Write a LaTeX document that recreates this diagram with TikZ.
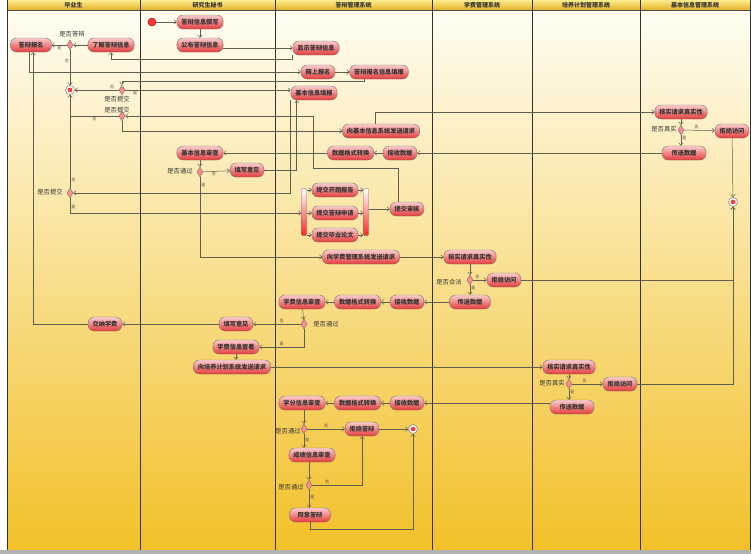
\documentclass[tikz,border=0pt]{standalone}
\usepackage{fontspec}
\setmainfont{Noto Sans CJK SC}
\usetikzlibrary{positioning,arrows.meta,shapes.geometric,calc}
\definecolor{lnc}{RGB}{95,95,80}
\definecolor{bgtop}{RGB}{255,253,242}
\definecolor{bgbot}{RGB}{242,192,40}
\definecolor{hdtop}{RGB}{252,236,140}
\definecolor{hdbot}{RGB}{228,176,36}
\definecolor{acttop}{RGB}{252,205,205}
\definecolor{actbot}{RGB}{228,58,58}

\begin{document}
\begin{tikzpicture}[x=1pt,y=-1pt,
  act/.style={draw=black!55,rounded corners=6pt,top color=acttop,bottom color=actbot,minimum height=14pt,
    inner xsep=4.5pt,inner ysep=1pt,font=\fontsize{6.2}{7}\selectfont\bfseries,text=black!80},
  dec/.style={diamond,draw=black!55,fill=red!45,minimum width=6pt,minimum height=10pt,inner sep=0pt},
  ini/.style={circle,draw=red!50!black,fill=red!80,minimum size=8pt,inner sep=0pt},
  fin/.style={circle,draw=black!60,fill=white,minimum size=9pt,inner sep=0pt,
    path picture={\fill[red!75] (path picture bounding box.center) circle (2.4pt);}},
  bar/.style={draw=black!55,rounded corners=1pt,minimum width=5pt,minimum height=47pt,inner sep=0pt,
    top color=white,bottom color=red!85},
  dl/.style={font=\fontsize{6.3}{7}\selectfont,text=black!80,inner sep=0pt},
  yn/.style={font=\fontsize{4}{4}\selectfont,text=black!70,inner sep=1pt},
  hd/.style={font=\fontsize{6}{7}\selectfont\bfseries,text=black!80,inner sep=0pt},
  swim/.style={draw=black!80,line width=0.7pt},
  fl/.style={-{Straight Barb[length=2.5pt,width=4.5pt]},draw=lnc,line width=0.5pt},
  ln/.style={draw=lnc,line width=0.5pt},
]
\useasboundingbox (0,0) rectangle (751,554);
% lanes
\shade[top color=bgtop,bottom color=bgbot] (7,10) rectangle (750,550);
\shade[top color=hdtop,bottom color=hdbot] (7,0) rectangle (750,10);
\draw[black!70,line width=0.6pt] (7,10) -- (750,10);
\foreach \x in {7,140,275,432,532,640,750} \draw[swim] (\x,0) -- (\x,550);
\fill[black!30] (0,550) rectangle (751,554);
\foreach \a/\b/\t [count=\i] in {7/140/毕业生,140/275/研究生秘书,275/432/答辩管理系统,
    432/532/学费管理系统,532/640/培养计划管理系统,640/750/基本信息管理系统}
  \node[hd] (h\i) at ({(\a+\b)/2},5) {\t};

% graduate
\node[act,minimum width=41pt] (bm) at (31,45) {答辩报名};
\node[dec] (dsf) at (70,45) {};
\node[dl] (ldsf) at (72,34) {是否答辩};
\node[act] (ljxx) at (111,45) {了解答辩信息};
\node[fin] (e1) at (70,90) {};
\node[dec] (tj1) at (122,90) {};
\node[dl] (ltj1) at (117,99) {是否提交};
\node[dec] (tj2) at (122,116) {};
\node[dl] (ltj2) at (117,110) {是否提交};
\node[dec] (tj3) at (70,193) {};
\node[dl] (ltj3) at (50,192) {是否提交};
\node[act] (jnxf) at (105,324) {交纳学费};

% secretary
\node[ini] (st) at (152,22) {};
\node[act] (zx) at (200,22) {答辩信息撰写};
\node[act] (gb) at (200,45) {公布答辩信息};
\node[act] (jbsc) at (200,153) {基本信息审查};
\node[dec] (tg1) at (200,172) {};
\node[dl] (ltg1) at (180,171) {是否通过};
\node[act] (yj1) at (247,170) {填写意见};
\node[act] (yj2) at (236,324) {填写意见};
\node[act] (xfck) at (236,347) {学费信息查看};
\node[act] (pyqq) at (232,367) {向培养计划系统发送请求};

% defence system
\node[act] (xs) at (316,48) {显示答辩信息};
\node[act] (wsbm) at (318,72) {网上报名};
\node[act] (bmtb) at (379,72) {答辩报名信息填报};
\node[act] (jbtb) at (314,93) {基本信息填报};
\node[act] (jbqq) at (381,131) {向基本信息系统发送请求};
\node[act] (js1) at (400,153) {接收数据};
\node[act,left=9pt of js1] (gs1) {数据格式转换};
\node[bar] (fork) at (304,212) {};
\node[bar] (join) at (366,212) {};
\node[act] (kt) at (335,190) {提交开题报告};
\node[act] (sq) at (335,213) {提交答辩申请};
\node[act] (lw) at (335,235) {提交毕业论文};
\node[act] (sh) at (407,209) {提交审核};
\node[act] (xfqq) at (361,257) {向学费管理系统发送请求};
\node[act] (js2) at (407,302) {接收数据};
\node[act,left=9pt of js2] (gs2) {数据格式转换};
\node[act,left=9pt of gs2] (xfsc) {学费信息审查};
\node[dec] (tg2) at (304,324) {};
\node[dl] (ltg2) at (326,324) {是否通过};
\node[act] (js3) at (407,403) {接收数据};
\node[act,left=9pt of js3] (gs3) {数据格式转换};
\node[act,left=9pt of gs3] (xfsh) {学分信息审查};
\node[dec] (tg3) at (304,429) {};
\node[dl] (ltg3) at (288,431) {是否通过};
\node[act] (jj) at (362,429) {拒绝答辩};
\node[fin] (e2) at (413,429) {};
\node[act] (cj) at (312,455) {成绩信息审查};
\node[dec] (tg4) at (309,485) {};
\node[dl] (ltg4) at (291,487) {是否通过};
\node[act,minimum width=41pt] (ty) at (310,515) {同意答辩};

% fee system
\node[act] (hs4) at (470,257) {核实请求真实性};
\node[dec] (hf) at (470,280) {};
\node[dl] (lhf) at (449,282) {是否合法};
\node[act] (jf4) at (504,280) {拒绝访问};
\node[act,minimum width=41pt] (cs4) at (470,302) {传送数据};

% training plan system
\node[act] (hs5) at (569,367) {核实请求真实性};
\node[dec] (zs5) at (569,384) {};
\node[dl] (lzs5) at (552,383) {是否真实};
\node[act] (jf5) at (620,384) {拒绝访问};
\node[act,minimum width=44pt] (cs5) at (572,407) {传送数据};

% basic info system
\node[act] (hs6) at (681,112) {核实请求真实性};
\node[dec] (zs6) at (681,130) {};
\node[dl] (lzs6) at (664,129) {是否真实};
\node[act] (jf6) at (732,131) {拒绝访问};
\node[act,minimum width=44pt] (cs6) at (684,153) {传送数据};
\node[fin] (e3) at (733,202) {};

\coordinate (c1) at (313,168);

% announcement and sign-up
\draw[fl] (st) -- (zx);
\draw[fl] (zx) -- (gb);
\draw[fl] (gb.east |- xs.west) -- (xs.west);
\draw[fl] (xs.south west) -- ++(0,4) -| (ljxx.south);
\draw[fl] (ljxx) -- (dsf);
\draw[fl] (dsf) -- node[yn,below]{是} (bm);
\draw[fl] (dsf) -- node[yn,left,pos=0.3]{否} (e1);
\draw[fl] ([xshift=-2pt]bm.south) |- (wsbm.west);
\draw[fl] (wsbm) -- (bmtb);
\draw[fl] ([xshift=-15pt]bmtb.south) -- ++(0,2) -| (tj1.north);
\draw[fl] (tj1) -- node[yn,above,pos=0.15]{否} (e1);
\draw[fl] (tj1) -- node[yn,below,pos=0.06]{是} (tj1 -| jbtb.west);
\draw[fl] (jbtb.south west) |- (tj3.east);
\draw[fl] (tj3) -- node[yn,right,pos=0.08]{否} (e1);
\draw[fl] (tj3.south) |- node[yn,right,pos=0.3]{是} (fork.west |- sq.west);
% submission
\foreach \n in {kt,sq,lw} {
  \draw[fl] (fork.east |- \n.west) -- (\n.west);
  \draw[fl] (\n.east) -- (join.west |- \n.east);
}
\draw[fl] (join.east |- sh.west) -- (sh.west);
\draw[fl] ([xshift=-9pt]sh.north) |- (c1) |- (tj2.east);
\draw[ln] (tj2.west) -- node[yn,below]{否} (tj2.west -| e1);
\draw[fl] (tj2.south) |- (jbqq.west);
% basic info check
\draw[fl] ([xshift=-6pt]jbqq.north) |- (hs6.west);
\draw[fl] (hs6) -- (zs6);
\draw[fl] (zs6) -- node[yn,above,pos=0.4]{否} (jf6);
\draw[fl] (zs6.south) -- node[yn,right,pos=0.3]{是} (zs6.south |- cs6.north);
\draw[fl] (jf6) -- (e3);
\draw[fl] (cs6) -- (js1);
\draw[fl] (js1) -- (gs1);
\draw[fl] (gs1) -- (jbsc);
\draw[fl] (jbsc) -- (tg1);
\draw[fl] (tg1) -- node[yn,below,pos=0.4]{否} (yj1);
\draw[fl] (yj1.east) -| ([xshift=6pt]jbtb.south west);
\draw[fl] (tg1.south) |- node[yn,right,pos=0.05]{是} (xfqq.west);
% fee check
\draw[fl] (xfqq) -- (hs4);
\draw[fl] (hs4) -- (hf);
\draw[fl] (hf) -- node[yn,above,pos=0.3]{否} (jf4);
\draw[fl] (hf) -- node[yn,right,pos=0.3]{是} (cs4);
\draw[fl] (jf4.east) -| (e3.south);
\draw[fl] (cs4) -- (js2);
\draw[fl] (js2) -- (gs2);
\draw[fl] (gs2) -- (xfsc);
\draw[fl] (xfsc) -- (tg2);
\draw[fl] (tg2) -- node[yn,above,pos=0.4]{否} (yj2);
\draw[fl] (yj2) -- (jnxf);
\draw[fl] (jnxf.west) -| ([xshift=2pt]bm.south);
\draw[fl] (tg2.south) |- node[yn,above,pos=0.75]{是} (xfck.east);
\draw[fl] (xfck.south) -- (xfck.south |- pyqq.north);
% credit check
\draw[fl] (pyqq) -- (hs5);
\draw[fl] (hs5) -- (zs5);
\draw[fl] (zs5) -- node[yn,above,pos=0.4]{否} (jf5);
\draw[fl] (zs5.south) -- node[yn,right,pos=0.3]{是} (zs5.south |- cs5.north);
\draw[fl] (jf5.east) -| (e3.south);
\draw[fl] (cs5.west |- js3.east) -- (js3.east);
\draw[fl] (js3) -- (gs3);
\draw[fl] (gs3) -- (xfsh);
\draw[fl] (xfsh.south -| tg3) -- (tg3);
\draw[fl] (tg3) -- node[yn,above,pos=0.5]{否} (jj);
\draw[fl] (jj) -- (e2);
\draw[fl] (tg3.south) -- node[yn,right,pos=0.4]{是} (tg3.south |- cj.north);
\draw[fl] (cj.south -| tg4) -- (tg4);
\draw[fl] (tg4.east) -| node[yn,above,pos=0.15]{否} (jj.south);
\draw[fl] (tg4.south) -- node[yn,right,pos=0.4]{是} (tg4.south |- ty.north);
\draw[fl] (ty.south) -- ++(0,7) -| (e2.south);
\end{tikzpicture}
\end{document}
